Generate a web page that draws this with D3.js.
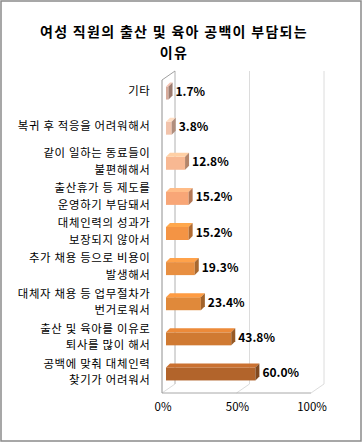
<!DOCTYPE html>
<html>
<head>
<meta charset="utf-8">
<script src="https://cdn.jsdelivr.net/npm/d3@7"></script>
<style>
  body { margin: 0; background: #fff; }
  text { font-family: "Noto Sans CJK KR", sans-serif; }
</style>
</head>
<body>
<div class="canvas"></div>
<script>
const width = 362;
const height = 442;

// data
const categories = ["기타", "복귀", "같이", "출산휴가", "대체인력", "추가채용", "대체자", "출산육아", "공백"];
const labelLines = [
  ["기타"],
  ["복귀 후 적응을 어려워해서"],
  ["같이 일하는 동료들이", "불편해해서"],
  ["출산휴가 등 제도를", "운영하기 부담돼서"],
  ["대체인력의 성과가", "보장되지 않아서"],
  ["추가 채용 등으로 비용이", "발생해서"],
  ["대체자 채용 등 업무절차가", "번거로워서"],
  ["출산 및 육아를 이유로", "퇴사를 많이 해서"],
  ["공백에 맞춰 대체인력", "찾기가 어려워서"]
];
const values = [1.7, 3.8, 12.8, 15.2, 15.2, 19.3, 23.4, 43.8, 60.0];
const ticks = [0, 50, 100];
const titleLines = ["여성 직원의 출산 및 육아 공백이 부담되는", "이유"];

const barColors = ["#d8ab9b", "#f2c3ab", "#f8b892", "#f8a677", "#f49444", "#e88f41", "#e0893a", "#d07a32", "#b2642b"];

const svg = d3.select(".canvas")
    .append("svg")
    .attr("width", width)
    .attr("height", height);

// outer border
svg.append("rect")
    .attr("x", 1).attr("y", 1)
    .attr("width", width - 2).attr("height", height - 2)
    .attr("fill", "#fff")
    .attr("stroke", "#8a8a8a")
    .attr("stroke-width", 1.5);

// title
svg.append("text")
    .attr("x", 174).attr("y", 37)
    .attr("text-anchor", "middle")
    .attr("font-size", 14).attr("font-weight", "bold")
    .attr("letter-spacing", 1.3)
    .selectAll("tspan")
    .data(titleLines)
    .join("tspan")
    .attr("x", 174)
    .attr("dy", (d, i) => i ? 20.5 : 0)
    .text(d => d);

// 3d geometry
const [dx, dy] = [13, -9];
const x = d3.scaleLinear().domain([0, 100]).range([162, 311]);
const y = d3.scaleBand().domain(categories).range([73.5, 389.5]);
const top0 = 80, bottom0 = 393;

const grid = svg.append("g");
// back wall lines
grid.selectAll(".back")
    .data(ticks)
    .join("line")
    .attr("x1", d => x(d) + dx).attr("x2", d => x(d) + dx)
    .attr("y1", top0 + dy).attr("y2", bottom0 + dy)
    .attr("stroke", d => d === 0 ? "#b0b0b0" : "#dcdcdc");
// floor diagonals
grid.selectAll(".floor")
    .data(ticks)
    .join("line")
    .attr("x1", d => x(d)).attr("x2", d => x(d) + dx)
    .attr("y1", bottom0).attr("y2", bottom0 + dy)
    .attr("stroke", "#dcdcdc");
// top-left diagonal
grid.append("line")
    .attr("x1", x(0)).attr("x2", x(0) + dx)
    .attr("y1", top0).attr("y2", top0 + dy)
    .attr("stroke", "#a0a0a0");
// front axes
grid.append("line")
    .attr("x1", x(0)).attr("x2", x(0))
    .attr("y1", top0).attr("y2", bottom0)
    .attr("stroke", "#909090");
grid.append("line")
    .attr("x1", x(0)).attr("x2", x(100))
    .attr("y1", bottom0).attr("y2", bottom0)
    .attr("stroke", "#a8a8a8");

// tick labels
svg.selectAll(".tick")
    .data(ticks)
    .join("text")
    .attr("x", d => x(d) + 1)
    .attr("y", 411)
    .attr("text-anchor", "middle")
    .attr("font-size", 11.5)
    .attr("font-family", "Liberation Sans, Arial, sans-serif")
    .text(d => d + "%");

// bars
const off = 4, bh = 13, bd = 4;
const bars = svg.selectAll(".bar")
    .data(values)
    .join("g");

const cy = (d, i) => y(categories[i]) + y.bandwidth() / 2;
const x0 = x(0) + off;

bars.append("rect")
    .attr("x", x0)
    .attr("y", (d, i) => cy(d, i) - bh / 2 + 2)
    .attr("width", d => x(d) - x(0))
    .attr("height", bh)
    .attr("fill", (d, i) => barColors[i]);

bars.append("path")
    .attr("d", (d, i) => {
        const t = cy(d, i) - bh / 2 + 2, r = x0 + x(d) - x(0);
        return `M${x0},${t}L${x0 + bd},${t - bd}L${r + bd},${t - bd}L${r},${t}Z`;
    })
    .attr("fill", (d, i) => d3.color(barColors[i]).brighter(0.35));

bars.append("path")
    .attr("d", (d, i) => {
        const t = cy(d, i) - bh / 2 + 2, r = x0 + x(d) - x(0);
        return `M${r},${t}L${r + bd},${t - bd}L${r + bd},${t - bd + bh}L${r},${t + bh}Z`;
    })
    .attr("fill", (d, i) => d3.color(barColors[i]).darker(0.9));

// value labels
svg.selectAll(".val")
    .data(values)
    .join("text")
    .attr("x", d => x0 + x(d) - x(0) + bd + 3)
    .attr("y", (d, i) => cy(d, i) + 5)
    .attr("font-size", 12)
    .attr("font-weight", "bold")
    .attr("font-family", "Liberation Sans, Arial, sans-serif")
    .text(d => d.toFixed(1) + "%");

// category labels
const cat = svg.selectAll(".cat")
    .data(labelLines)
    .join("text")
    .attr("text-anchor", "end")
    .attr("font-size", 11.4)
    .attr("letter-spacing", 0.7)
    .attr("fill", "#000");

cat.selectAll("tspan")
    .data((d, i) => d.map((s, j) => ({ s, j, n: d.length, i })))
    .join("tspan")
    .attr("x", 150.5)
    .attr("y", d => cy(null, d.i) + 4.2 + (d.j - (d.n - 1) / 2) * 16.7)
    .text(d => d.s);
</script>
</body>
</html>
